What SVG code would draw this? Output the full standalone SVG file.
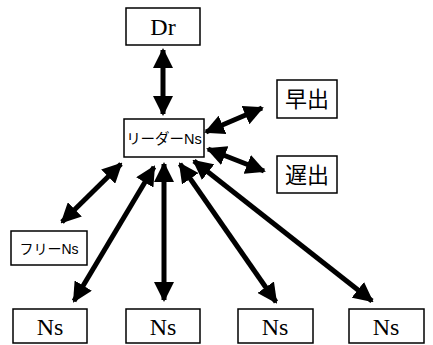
<svg xmlns="http://www.w3.org/2000/svg" width="433" height="345" viewBox="0 0 433 345">
<defs>
<marker id="ah" markerUnits="userSpaceOnUse" markerWidth="20" markerHeight="20" viewBox="0 0 20 20" refX="18" refY="10" orient="auto-start-reverse">
<path d="M0,0 L20,10 L0,20 Z" fill="#000"/>
</marker>
<style>
rect{fill:#fff;stroke:#000;stroke-width:1.5}
.t{font-family:"Liberation Serif","Noto Sans CJK JP",serif;fill:#000;text-anchor:middle}
.s{font-family:"Liberation Sans","Noto Sans CJK JP",sans-serif;fill:#000;text-anchor:middle}
line{stroke:#000;stroke-width:5;marker-start:url(#ah);marker-end:url(#ah)}
</style>
</defs>
<rect width="433" height="345" fill="#fff" style="stroke:none"/>
<g id="connectors">
<line x1="163" y1="50" x2="163" y2="114"/>
<line x1="206" y1="132" x2="262" y2="108"/>
<line x1="208" y1="149" x2="264" y2="171"/>
<line x1="121" y1="164" x2="62" y2="222"/>
<line x1="154" y1="167" x2="74" y2="301"/>
<line x1="164" y1="164" x2="164" y2="300"/>
<line x1="180" y1="164" x2="276" y2="302"/>
<line x1="194" y1="161" x2="372" y2="301"/>
</g>
<g id="dr"><rect x="126" y="8" width="74" height="37"/><text class="t" x="163" y="35" font-size="24">Dr</text></g>
<g id="leader"><rect x="124" y="119" width="80" height="38"/><text class="s" x="164" y="144" font-size="14.5">リーダーNs</text></g>
<g id="early"><rect x="277" y="80" width="60" height="38"/><text class="t" x="307" y="107" font-size="22">早出</text></g>
<g id="late"><rect x="277" y="156" width="60" height="37"/><text class="t" x="307" y="183" font-size="22">遅出</text></g>
<g id="free"><rect x="11" y="231" width="76" height="34"/><text class="s" x="49" y="254" font-size="14">フリーNs</text></g>
<g id="ns1"><rect x="13" y="309" width="74" height="34"/><text class="t" x="50" y="335" font-size="24">Ns</text></g>
<g id="ns2"><rect x="126" y="309" width="74" height="34"/><text class="t" x="163" y="335" font-size="24">Ns</text></g>
<g id="ns3"><rect x="238" y="309" width="75" height="34"/><text class="t" x="275" y="335" font-size="24">Ns</text></g>
<g id="ns4"><rect x="349" y="309" width="75" height="34"/><text class="t" x="386" y="335" font-size="24">Ns</text></g>
</svg>
